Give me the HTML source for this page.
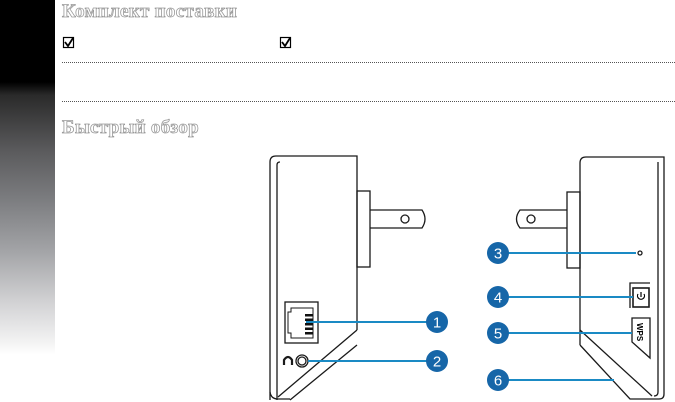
<!DOCTYPE html>
<html><head><meta charset="utf-8"><style>
html,body{margin:0;padding:0;background:#fff;}
body{width:675px;height:402px;position:relative;overflow:hidden;font-family:"Liberation Sans",sans-serif;}
#side{position:absolute;left:0;top:0;width:55px;height:402px;background:linear-gradient(to bottom,#000 0px,#000 82px,#2a2a2a 95px,#5a5a5c 150px,#7c7d80 200px,#a2a3a6 250px,#d0d0d2 300px,#f5f5f5 345px,#fff 355px);}
.h{position:absolute;left:62px;font-family:"Liberation Serif",serif;font-weight:bold;font-size:19px;color:#fff;-webkit-text-stroke:0.8px #9a9a9a;letter-spacing:0.3px;}
.dot{position:absolute;left:62px;right:0;border-top:1px dotted #555;height:0;}
</style></head><body>
<div id="side"></div>
<div class="h" style="top:1px">Комплект поставки</div>
<div class="h" style="top:117px">Быстрый обзор</div>
<div class="dot" style="top:62px"></div>
<div class="dot" style="top:101px"></div>
<svg width="675" height="402" style="position:absolute;left:0;top:0" xmlns="http://www.w3.org/2000/svg">
<g stroke="#000" fill="none" stroke-width="1.2">
<rect x="63.5" y="37.5" width="10" height="10"/>
<path d="M65 42 L68 46 L73 38" stroke-width="1.8"/>
<rect x="280.5" y="37.5" width="10" height="10"/>
<path d="M282 42 L285 46 L290 38" stroke-width="1.8"/>
</g>
<g stroke="#1a1a1a" fill="none" stroke-width="1.3">
<!-- left device -->
<path d="M270 400 L270 162 Q270 156 276 156 L357 156 L357 330"/>
<path d="M277 400 L277 165 Q277 162 280 162"/>
<path d="M357 330 L278 397"/>
<path d="M357 345 L290 400"/>
<path d="M270 392 Q271 399 278 399 L290 399"/>
<rect x="357" y="191" width="13" height="76"/>
<path d="M370 210 L422 210 Q428 219 422 228 L370 228"/>
<circle cx="405" cy="219" r="4"/>
<rect x="285" y="302" width="33" height="41"/>
<path d="M288 312 L291 312 L291 308 L313 308 L313 338 L291 338 L291 333 L288 333 Z" stroke-width="1"/>
<circle cx="302" cy="361" r="6"/>
<circle cx="302" cy="361" r="4"/>
<path d="M284 365 L284 360 Q288 354 292 360 L292 365" stroke-width="2.2"/>
<!-- right device -->
<path d="M580 345 L580 163 Q580 157 586 157 L664 157 L664 394 Q664 399 659 399 L630 399 L580 345"/>
<path d="M658 162 L658 392 Q658 396 654 396"/>
<path d="M580 330 L652 396"/>
<rect x="567" y="192" width="13" height="76"/>
<path d="M567 210 L520 210 Q513 219 520 228 L567 228"/>
<circle cx="531" cy="219" r="4"/>
<circle cx="640" cy="253" r="2"/>
<path d="M630 308 L630 283 L650 283"/>
<rect x="633" y="288" width="16" height="19" stroke-width="1.6"/>
<path d="M632 318 L650 318 L650 358 L632 342 Z"/>
</g>
<g fill="#111">
<rect x="305" y="314" width="8" height="2.5"/>
<rect x="305" y="318.5" width="8" height="2.5"/>
<rect x="305" y="323" width="8" height="2.5"/>
<rect x="305" y="327.5" width="8" height="2.5"/>
<rect x="305" y="332" width="8" height="2.5"/>
</g>
<path d="M641 292 L641 297 M638 294 A3.5 3.5 0 1 0 644 294" stroke="#000" stroke-width="1.2" fill="none"/>
<text x="0" y="0" font-family="Liberation Sans" font-weight="bold" font-size="8" transform="translate(637,323) rotate(90)">WPS</text>
<g stroke="#1a8ac4" stroke-width="2">
<line x1="306" y1="322" x2="428" y2="322"/>
<line x1="308" y1="361" x2="428" y2="361"/>
<line x1="506" y1="253" x2="636" y2="253"/>
<line x1="506" y1="297" x2="633" y2="297"/>
<line x1="506" y1="333" x2="632" y2="333"/>
<line x1="506" y1="380" x2="614" y2="380"/>
</g>
<g fill="#1666a8">
<circle cx="437" cy="322" r="11"/><circle cx="437" cy="361" r="11"/>
<circle cx="498" cy="253" r="11"/><circle cx="498" cy="297" r="11"/>
<circle cx="498" cy="333" r="11"/><circle cx="498" cy="380" r="11"/>
</g>
<g fill="#fff" font-family="Liberation Sans" font-size="15" text-anchor="middle">
<text x="437" y="327.5">1</text><text x="437" y="366.5">2</text>
<text x="498" y="258.5">3</text><text x="498" y="302.5">4</text>
<text x="498" y="338.5">5</text><text x="498" y="385.5">6</text>
</g>
</svg>
</body></html>
